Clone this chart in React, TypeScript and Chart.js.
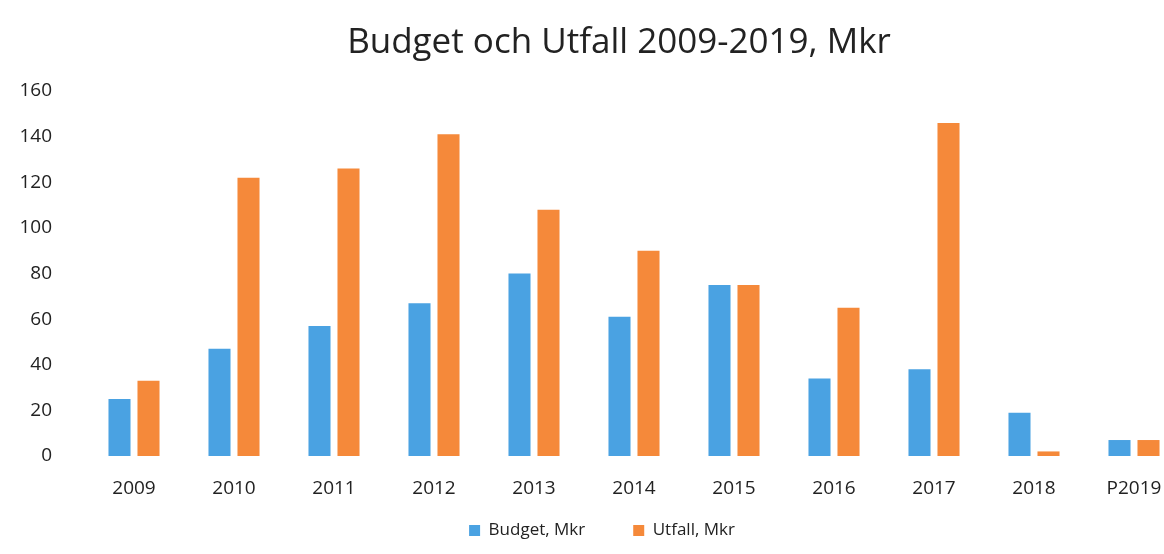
import React, { useEffect, useRef } from "react";
import { Chart, registerables } from "chart.js";

Chart.register(...registerables);

const titleText = "Budget och Utfall 2009-2019, Mkr";
const categories = ["2009", "2010", "2011", "2012", "2013", "2014", "2015", "2016", "2017", "2018", "P2019"];
const budget = [25, 47, 57, 67, 80, 61, 75, 34, 38, 19, 7];
const utfall = [33, 122, 126, 141, 108, 90, 75, 65, 146, 2, 7];
const yTicks = [0, 20, 40, 60, 80, 100, 120, 140, 160];

const FONT = "'Open Sans', 'Noto Sans', sans-serif";

const titlePlugin = {
  id: "customTitle",
  afterDraw(chart: any) {
    const { ctx, chartArea } = chart;
    ctx.save();
    ctx.font = `normal 35px ${FONT}`;
    ctx.fillStyle = "#222";
    ctx.textAlign = "center";
    ctx.textBaseline = "middle";
    ctx.fillText(titleText, (chartArea.left + chartArea.right) / 2 - 15, chartArea.top - 48);
    ctx.restore();
  },
};

const legendShift = {
  id: "legendShift",
  afterLayout(chart: any) {
    const lg = chart.legend;
    if (!lg) return;
    const p = lg.options.labels.padding;
    const h = lg.height;
    const center = chart.chartArea.bottom + 75;
    lg.top = center - p - 9;
    lg.bottom = lg.top + h;
  },
};

export default function App() {
  const ref = useRef<HTMLCanvasElement | null>(null);
  useEffect(() => {
    document.body.style.margin = "0";
    document.body.style.overflow = "hidden";
    document.documentElement.style.overflow = "hidden";
    const ctx = ref.current!;
    const chart = new Chart(ctx, {
      type: "bar",
      data: {
        labels: categories,
        datasets: [
          { label: "Budget, Mkr", data: budget, backgroundColor: "#4aa2e2", borderWidth: 0 },
          { label: "Utfall, Mkr", data: utfall, backgroundColor: "#f5893a", borderWidth: 0 },
        ],
      },
      plugins: [titlePlugin, legendShift],
      options: {
        animation: false,
        responsive: false,
        maintainAspectRatio: false,
        layout: { padding: { left: 20, right: 0, top: 91, bottom: -23 } },
        datasets: { bar: { categoryPercentage: 0.58, barPercentage: 0.76 } },
        plugins: {
          tooltip: { enabled: false },
          title: { display: false },
          legend: {
            position: "bottom",
            labels: {
              color: "#222",
              font: { family: FONT, size: 17 },
              boxWidth: 11,
              boxHeight: 11,
              padding: 48,
            },
          },
        },
        scales: {
          x: {
            grid: { display: false },
            border: { display: false },
            ticks: { color: "#222", font: { family: FONT, size: 19 }, padding: 13, maxRotation: 0 },
            afterFit: (s: any) => { s.height = 46; },
          },
          y: {
            min: 0,
            max: 160,
            afterBuildTicks: (s: any) => { s.ticks = yTicks.map((v) => ({ value: v })); },
            grid: { display: false },
            border: { display: false },
            ticks: { color: "#222", font: { family: FONT, size: 19 }, padding: 24 },
            afterFit: (s: any) => { s.width = 64; },
          },
        },
      },
    });
    return () => chart.destroy();
  }, []);
  return <canvas ref={ref} width={1184} height={554} style={{ display: "block" }} />;
}
